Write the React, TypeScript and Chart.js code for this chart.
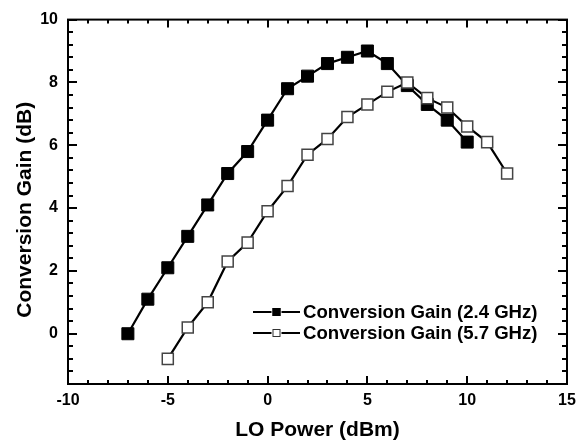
import React, { useEffect, useRef } from "react";
import { Chart, registerables } from "chart.js";

Chart.register(...registerables);

const loPower24 = [-7, -6, -5, -4, -3, -2, -1, 0, 1, 2, 3, 4, 5, 6, 7, 8, 9, 10];
const gain24 = [0, 1.1, 2.1, 3.1, 4.1, 5.1, 5.8, 6.8, 7.8, 8.2, 8.6, 8.8, 9.0, 8.6, 7.9, 7.3, 6.8, 6.1];
const loPower57 = [-5, -4, -3, -2, -1, 0, 1, 2, 3, 4, 5, 6, 7, 8, 9, 10, 11, 12];
const gain57 = [-0.8, 0.2, 1.0, 2.3, 2.9, 3.9, 4.7, 5.7, 6.2, 6.9, 7.3, 7.7, 8.0, 7.5, 7.2, 6.6, 6.1, 5.1];
const xTicks = [-10, -5, 0, 5, 10, 15];
const yTicks = [0, 2, 4, 6, 8, 10];
const seriesLabels = ["Conversion Gain (2.4 GHz)", "Conversion Gain (5.7 GHz)"];
const xTitle = "LO Power (dBm)";
const yTitle = "Conversion Gain (dB)";

const FONT = '"Liberation Sans", Arial, Helvetica, sans-serif';

const framePlugin = {
  id: "frameTicks",
  afterDatasetsDraw(chart: any) {
    const { ctx, chartArea: a, scales } = chart;
    const xs = scales.x;
    const ys = scales.y;
    ctx.save();
    ctx.strokeStyle = "#000";
    ctx.lineWidth = 2;
    ctx.lineCap = "butt";
    for (let v = -10; v <= 15; v++) {
      const px = Math.round(xs.getPixelForValue(v));
      const len = v % 5 === 0 ? 8 : 4;
      ctx.beginPath();
      ctx.moveTo(px, a.bottom);
      ctx.lineTo(px, a.bottom - len);
      ctx.moveTo(px, a.top);
      ctx.lineTo(px, a.top + len);
      ctx.stroke();
    }
    for (let i = -4; i <= 25; i++) {
      const v = i * 0.4;
      const py = Math.round(ys.getPixelForValue(v));
      const major = i % 5 === 0;
      const len = major ? 9 : 5;
      ctx.beginPath();
      ctx.moveTo(a.left, py);
      ctx.lineTo(a.left + len, py);
      ctx.moveTo(a.right, py);
      ctx.lineTo(a.right - len, py);
      ctx.stroke();
    }
    ctx.strokeRect(a.left, a.top, a.right - a.left, a.bottom - a.top);

    ctx.fillStyle = "#000";
    ctx.font = `bold 21px ${FONT}`;
    ctx.textAlign = "center";
    ctx.textBaseline = "middle";
    ctx.fillText(xTitle, (a.left + a.right) / 2, a.bottom + 46);
    ctx.save();
    ctx.translate(25, (a.top + a.bottom) / 2 + 8);
    ctx.rotate(-Math.PI / 2);
    ctx.fillText(yTitle, 0, 0);
    ctx.restore();

    const rows = [
      { y: a.bottom - 72, fill: "#000", stroke: "#000" },
      { y: a.bottom - 51, fill: "#fff", stroke: "#333" },
    ];
    const lx0 = a.right - 314;
    const lx1 = a.right - 267;
    const mx = (lx0 + lx1) / 2;
    ctx.font = `bold 18.6px ${FONT}`;
    ctx.textAlign = "left";
    rows.forEach((r, i) => {
      ctx.strokeStyle = "#000";
      ctx.lineWidth = 2;
      ctx.beginPath();
      ctx.moveTo(lx0, r.y);
      ctx.lineTo(mx - 5, r.y);
      ctx.moveTo(mx + 5, r.y);
      ctx.lineTo(lx1, r.y);
      ctx.stroke();
      ctx.fillStyle = r.fill;
      ctx.fillRect(mx - 4, r.y - 4, 8, 8);
      ctx.strokeStyle = r.stroke;
      ctx.lineWidth = 1;
      ctx.strokeRect(mx - 3.5, r.y - 3.5, 7, 7);
      ctx.fillStyle = "#000";
      ctx.fillText(seriesLabels[i], lx1 + 3, r.y + 1);
    });
    ctx.restore();
  },
};

export default function App() {
  const ref = useRef<HTMLCanvasElement | null>(null);
  useEffect(() => {
    document.body.style.margin = "0";
    const canvas = ref.current;
    if (!canvas) return;
    const chart = new Chart(canvas, {
      type: "line",
      data: {
        datasets: [
          {
            label: seriesLabels[0],
            data: loPower24.map((x, i) => ({ x, y: gain24[i] })),
            borderColor: "#000",
            borderWidth: 2.2,
            pointStyle: "rect",
            pointRadius: 8.5,
            pointBackgroundColor: "#000",
            pointBorderColor: "#000",
            pointBorderWidth: 1,
            order: 1,
          },
          {
            label: seriesLabels[1],
            data: loPower57.map((x, i) => ({ x, y: gain57[i] })),
            borderColor: "#000",
            borderWidth: 2.2,
            pointStyle: "rect",
            pointRadius: 7.8,
            pointBackgroundColor: "#fff",
            pointBorderColor: "#444",
            pointBorderWidth: 1.5,
            order: 0,
          },
        ],
      },
      options: {
        responsive: false,
        animation: false,
        layout: { padding: { top: 15, right: 17, left: 0, bottom: 0 } },
        plugins: { legend: { display: false }, tooltip: { enabled: false } },
        elements: { line: { tension: 0 } },
        scales: {
          x: {
            type: "linear",
            min: -10,
            max: 15,
            grid: { display: false, drawTicks: false },
            border: { display: false },
            afterFit: (s: any) => {
              s.height = 59;
            },
            afterBuildTicks: (s: any) => {
              s.ticks = xTicks.map((v) => ({ value: v }));
            },
            ticks: {
              padding: 7,
              color: "#000",
              font: { family: FONT, size: 16, weight: "bold" },
              callback: (v: any) => String(v),
            },
          },
          y: {
            type: "linear",
            min: -1.6,
            max: 10,
            grid: { display: false, drawTicks: false },
            border: { display: false },
            afterFit: (s: any) => {
              s.width = 68;
            },
            afterBuildTicks: (s: any) => {
              s.ticks = yTicks.map((v) => ({ value: v }));
            },
            ticks: {
              padding: 10,
              color: "#000",
              font: { family: FONT, size: 16, weight: "bold" },
              callback: (v: any) => String(v),
            },
          },
        },
      },
      plugins: [framePlugin],
    });
    return () => chart.destroy();
  }, []);
  return (
    <div style={{ width: 584, height: 443, position: "relative" }}>
      <canvas ref={ref} width={584} height={443} style={{ display: "block" }} />
    </div>
  );
}
